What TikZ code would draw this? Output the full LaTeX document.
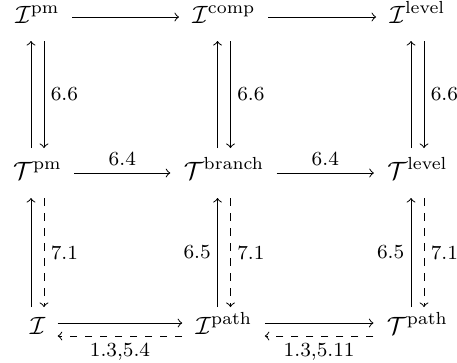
\documentclass[tikz,border=0pt]{standalone}
\usetikzlibrary{calc}
\begin{document}
\begin{tikzpicture}[x=0.4pt,y=-0.4pt,>=to,
  obj/.style={anchor=base, inner sep=0pt},
  lbl/.style={font=\footnotesize, inner sep=2.5pt}]
  \useasboundingbox (0,0) rectangle (457,362);

  % objects
  \node[obj] (Ipm) at (37.5,23) {$\mathcal{I}^{\mathrm{pm}}$};
  \node[obj] (Icomp) at (224,23) {$\mathcal{I}^{\mathrm{comp}}$};
  \node[obj] (Ilevel) at (417.5,23) {$\mathcal{I}^{\mathrm{level}}$};
  \node[obj] (Tpm) at (37.5,179) {$\mathcal{T}^{\mathrm{pm}}$};
  \node[obj] (Tbranch) at (224,179) {$\mathcal{T}^{\mathrm{branch}}$};
  \node[obj] (Tlevel) at (417.5,179) {$\mathcal{T}^{\mathrm{level}}$};
  \node[obj] (I) at (37.5,334) {$\mathcal{I}$};
  \node[obj] (Ipath) at (224,334) {$\mathcal{I}^{\mathrm{path}}$};
  \node[obj] (Tpath) at (417.5,334) {$\mathcal{T}^{\mathrm{path}}$};

  % top row
  \draw[->] ($(Ipm.base east)+(12,-6)$) -- ($(Icomp.base west)+(-13,-6)$);
  \draw[->] ($(Icomp.base east)+(12,-6)$) -- ($(Ilevel.base west)+(-13,-6)$);

  % middle row
  \draw[->] ($(Tpm.base east)+(12,-6)$) -- ($(Tbranch.base west)+(-13,-6)$)
    node[lbl,midway,above] {6.4};
  \draw[->] ($(Tbranch.base east)+(12,-6)$) -- ($(Tlevel.base west)+(-13,-6)$)
    node[lbl,midway,above] {6.4};

  % bottom row
  \draw[->] ($(I.base east)+(12,-11)$) -- ($(Ipath.base west)+(-13,-11)$);
  \draw[->,dashed] ($(Ipath.base west)+(-13,2)$) -- ($(I.base east)+(12,2)$)
    node[lbl,midway,below] {1.3,5.4};
  \draw[->] ($(Ipath.base east)+(12,-11)$) -- ($(Tpath.base west)+(-13,-11)$);
  \draw[->,dashed] ($(Tpath.base west)+(-13,2)$) -- ($(Ipath.base east)+(12,2)$)
    node[lbl,midway,below] {1.3,5.11};

  % top to middle
  \draw[->] ($(Tpm.base)+(-6.5,-31)$) -- ($(Ipm.base)+(-6.5,18)$);
  \draw[->] ($(Ipm.base)+(6.5,18)$) -- ($(Tpm.base)+(6.5,-31)$)
    node[lbl,midway,right] {6.6};
  \draw[->] ($(Tbranch.base)+(-6.5,-31)$) -- ($(Icomp.base)+(-6.5,18)$);
  \draw[->] ($(Icomp.base)+(6.5,18)$) -- ($(Tbranch.base)+(6.5,-31)$)
    node[lbl,midway,right] {6.6};
  \draw[->] ($(Tlevel.base)+(-6.5,-31)$) -- ($(Ilevel.base)+(-6.5,18)$);
  \draw[->] ($(Ilevel.base)+(6.5,18)$) -- ($(Tlevel.base)+(6.5,-31)$)
    node[lbl,midway,right] {6.6};

  % middle to bottom
  \draw[->] ($(I.base)+(-6.5,-27)$) -- ($(Tpm.base)+(-6.5,19)$);
  \draw[->,dashed] ($(Tpm.base)+(6.5,19)$) -- ($(I.base)+(6.5,-27)$)
    node[lbl,midway,right] {7.1};
  \draw[->] ($(Ipath.base)+(-6.5,-27)$) -- ($(Tbranch.base)+(-6.5,19)$)
    node[lbl,midway,left] {6.5};
  \draw[->,dashed] ($(Tbranch.base)+(6.5,19)$) -- ($(Ipath.base)+(6.5,-27)$)
    node[lbl,midway,right] {7.1};
  \draw[->] ($(Tpath.base)+(-6.5,-27)$) -- ($(Tlevel.base)+(-6.5,19)$)
    node[lbl,midway,left] {6.5};
  \draw[->,dashed] ($(Tlevel.base)+(6.5,19)$) -- ($(Tpath.base)+(6.5,-27)$)
    node[lbl,midway,right] {7.1};
\end{tikzpicture}
\end{document}
